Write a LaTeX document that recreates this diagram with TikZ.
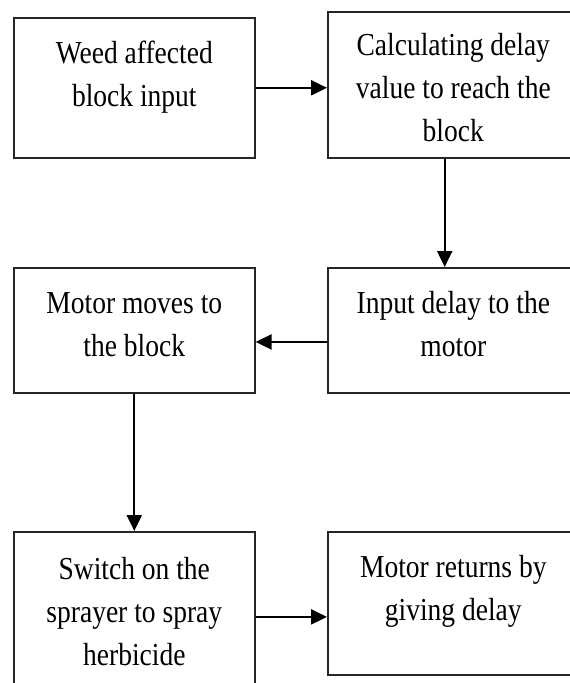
\documentclass[tikz,border=0pt]{standalone}
\usepackage{fontspec}
\setmainfont[FakeStretch=0.86]{Liberation Serif}
\usetikzlibrary{arrows.meta,calc}
\begin{document}
\begin{tikzpicture}[x=1pt,y=1pt,
  flow/.style={draw=black!85, line width=1.6pt, inner sep=0pt, align=flush center,
    anchor=north west, text height=46pt, font=\fontsize{32}{43}\selectfont},
  leftcol/.style={flow, text width=241pt},
  rightcol/.style={flow, text width=251pt},
  link/.style={draw=black, line width=2.2pt, -{Triangle[length=16pt,width=15pt]}}]
\useasboundingbox (0,0) rectangle (570,-683);
\clip (0,0) rectangle (570,-683);

% process steps
\node[leftcol, text depth=94pt] (b1) at (13,-17) {Weed affected\\block input};
\node[rightcol, text height=44pt, text depth=102pt] (b2) at (327,-11) {Calculating delay\\value to reach the\\block};
\node[leftcol, text depth=79pt] (b3) at (13,-267) {Motor moves to\\the block};
\node[rightcol, text depth=79pt] (b4) at (327,-267) {Input delay to the\\motor};
\node[leftcol, text height=48pt, text depth=121pt] (b5) at (13,-531) {Switch on the\\sprayer to spray\\herbicide};
\node[rightcol, text depth=97pt] (b6) at (327,-531) {Motor returns by\\giving delay};

% connectors
\draw[link] (b1.east) -- (b1.east -| b2.west);
\coordinate (d2) at ($(b2.south west)!0.466!(b2.south east)$);
\draw[link] (d2) -- (d2 |- b4.north);
\coordinate (d4) at ($(b4.north west)!0.592!(b4.south west)$);
\draw[link] (d4) -- (d4 -| b3.east);
\draw[link] (b3.south) -- (b3.south |- b5.north);
\coordinate (d6) at ($(b6.north west)!0.594!(b6.south west)$);
\draw[link] (d6 -| b5.east) -- (d6);
\end{tikzpicture}
\end{document}
